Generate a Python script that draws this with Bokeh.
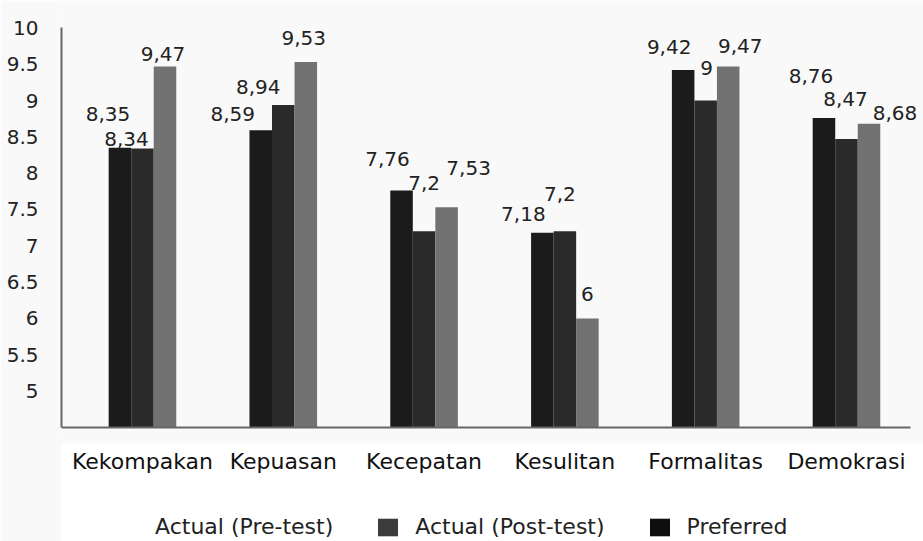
from bokeh.plotting import figure
from bokeh.models import Range1d, FixedTicker, ColumnDataSource, Legend, LegendItem, BoxAnnotation
from bokeh.transform import dodge
from bokeh.core.properties import value
from bokeh.embed import file_html
from bokeh.resources import INLINE

# ---- data ----
categories = ["Kekompakan", "Kepuasan", "Kecepatan", "Kesulitan", "Formalitas", "Demokrasi"]
pre_test = [8.35, 8.59, 7.76, 7.18, 9.42, 8.76]
post_test = [8.34, 8.94, 7.2, 7.2, 9.0, 8.47]
preferred = [9.47, 9.53, 7.53, 6.0, 9.47, 8.68]
series_names = ["Actual (Pre-test)", "Actual (Post-test)", "Preferred"]
y_ticks = [5, 5.5, 6, 6.5, 7, 7.5, 8, 8.5, 9, 9.5, 10]
y_tick_labels = ["5", "5.5", "6", "6.5", "7", "7.5", "8", "8.5", "9", "9.5", "10"]
baseline = 4.5

# ---- layout of value labels (screen px offsets from bar top centre) ----
label_dx = [[-12, -28, -14, -19, -14, -13],
            [-16, -25, 0, -5, 1, -1],
            [-2, -2, 22, 0, 12, 26]]
label_dy = [[-34, -16, -32, -19, -23, -42],
            [-10, -18, -48, -37, -33, -40],
            [-12, -24, -39, -24, -20, -11]]

bar_colors = ["#1b1b1b", "#2a2a2a", "#727272"]
legend_colors = ["#ffffff", "#3c3c3c", "#0e0e0e"]
offsets = [-0.16, 0.0, 0.16]
FONT = "DejaVu Sans"

p = figure(width=923, height=541, output_backend="svg", toolbar_location=None,
           x_range=Range1d(-0.575, 5.547), y_range=Range1d(2.927, 10.351),
           min_border_left=61, min_border_right=0, min_border_top=2, min_border_bottom=0)
p.outline_line_color = None
p.grid.visible = False
p.background_fill_color = "#f9f9f9"
p.border_fill_color = "#f9f9f9"
p.add_layout(BoxAnnotation(top=4.277, fill_color="white", fill_alpha=1,
                           line_color=None, level="underlay"))

xs = list(range(len(categories)))
fmt = lambda v: f"{v:g}".replace(".", ",")

sources = []
for i, vals in enumerate([pre_test, post_test, preferred]):
    src = ColumnDataSource(dict(x=xs, top=vals, label=[fmt(v) for v in vals],
                                dx=label_dx[i], dy=label_dy[i]))
    sources.append(src)
    p.vbar(x=dodge("x", offsets[i], range=p.x_range), top="top", bottom=baseline, width=0.16,
           source=src, fill_color=bar_colors[i], line_color=None)
    p.text(x=dodge("x", offsets[i], range=p.x_range), y="top", text="label",
           x_offset="dx", y_offset="dy", source=src, text_align="center",
           text_baseline="middle", text_font=value(FONT), text_font_size="20px",
           text_color="#222222")

# legend: zero-width renderers carrying the legend swatch colours
items = []
for i, (name, col) in enumerate(zip(series_names, legend_colors)):
    r = p.vbar(x=dodge("x", offsets[i], range=p.x_range), top="top", bottom=baseline,
               width=0, source=sources[i], fill_color=col, line_color=None)
    items.append(LegendItem(label=name, renderers=[r]))
legend = Legend(items=items, orientation="horizontal", location=(54, 2),
                padding=0, margin=0, spacing=42, label_standoff=15,
                glyph_width=25, glyph_height=22, border_line_color=None,
                background_fill_alpha=0, label_text_font=FONT,
                label_text_font_size="22px", label_text_color="#222222")
p.add_layout(legend, "center")

# axes
p.xaxis.fixed_location = baseline
p.xaxis.ticker = FixedTicker(ticks=xs)
p.xaxis.major_label_overrides = {i: c for i, c in enumerate(categories)}
p.xaxis.bounds = (-0.575, 5.455)
p.xaxis.major_tick_line_color = None
p.xaxis.minor_tick_line_color = None
p.xaxis.axis_line_color = "#666666"
p.xaxis.axis_line_width = 2
p.xaxis.major_label_standoff = 16
p.xaxis.major_label_text_font = FONT
p.xaxis.major_label_text_font_size = "22px"
p.xaxis.major_label_text_color = "#111111"

p.yaxis.ticker = FixedTicker(ticks=y_ticks)
p.yaxis.major_label_overrides = {t: l for t, l in zip(y_ticks, y_tick_labels)}
p.yaxis.bounds = (baseline, 10)
p.yaxis.major_tick_line_color = None
p.yaxis.minor_tick_line_color = None
p.yaxis.axis_line_color = "#666666"
p.yaxis.axis_line_width = 2
p.yaxis.major_label_standoff = 17
p.yaxis.major_label_text_font = FONT
p.yaxis.major_label_text_font_size = "20px"
p.yaxis.major_label_text_color = "#222222"

open("out.html", "w").write(file_html(p, INLINE))
